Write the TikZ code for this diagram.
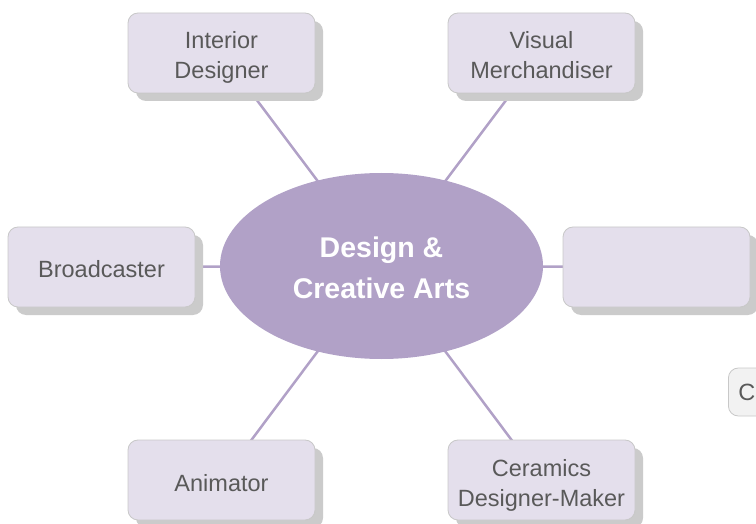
\documentclass[tikz,border=0pt]{standalone}
\usepackage{fontspec}
\setmainfont{Liberation Sans}
\usetikzlibrary{shapes.geometric,shadows,backgrounds}
\definecolor{boxfill}{HTML}{E4DFEC}
\definecolor{boxline}{HTML}{C8C8C8}
\definecolor{shade}{HTML}{CBCBCB}
\definecolor{hubfill}{HTML}{B1A1C7}
\definecolor{txt}{HTML}{595959}
\definecolor{palefill}{HTML}{F2F2F2}
\tikzset{
  career/.style={rounded corners=10pt, fill=boxfill, draw=boxline, line width=0.8pt,
    minimum width=187pt, minimum height=80pt, inner sep=0pt, align=center, text=txt,
    font=\fontsize{23.5}{30}\selectfont,
    drop shadow={shadow xshift=8pt, shadow yshift=-8pt, fill=shade, opacity=1}},
  oneline/.style={career, text height=22pt, text depth=0pt},
  twoline/.style={career, text height=52pt, text depth=0pt},
  partial/.style={rounded corners=10pt, fill=palefill, draw=boxline, line width=0.8pt,
    minimum width=120pt, minimum height=48pt, inner xsep=9pt, inner ysep=0pt,
    text width=100pt, align=left, text=txt, font=\fontsize{23.5}{30}\selectfont},
  hub/.style={ellipse, fill=hubfill, minimum width=323pt, minimum height=186pt,
    inner sep=0pt, align=center, text=white, text height=64.5pt, text depth=0pt,
    font=\fontsize{28.5}{41}\selectfont\bfseries},
  link/.style={draw=hubfill, line width=2.5pt}
}
\begin{document}
\begin{tikzpicture}[x=1pt,y=-1pt]
\useasboundingbox (0,0) rectangle (756,524);
\clip (0,0) rectangle (756,524);
\node[hub] (h) at (381.5,266) {Design \&\\Creative Arts};
\node[twoline] (id) at (221.5,53) {Interior\\Designer};
\node[twoline] (vm) at (541.5,53) {Visual\\Merchandiser};
\node[oneline] (br) at (101.5,267) {Broadcaster};
\node[oneline] (rb) at (656.5,267) {};
\node[oneline] (an) at (221.5,480) {Animator};
\node[twoline] (cd) at (541.5,480) {Ceramics\\Designer-Maker};
\node[partial, anchor=west] (co) at (728,392) {Co};
\begin{scope}[on background layer]
\draw[link] (h.center) -- (id.center);
\draw[link] (h.center) -- (vm.center);
\draw[link] (h.center) -- (br.center);
\draw[link] (h.center) -- (rb.center);
\draw[link] (h.center) -- (an.center);
\draw[link] (h.center) -- (cd.center);
\end{scope}
\end{tikzpicture}
\end{document}
